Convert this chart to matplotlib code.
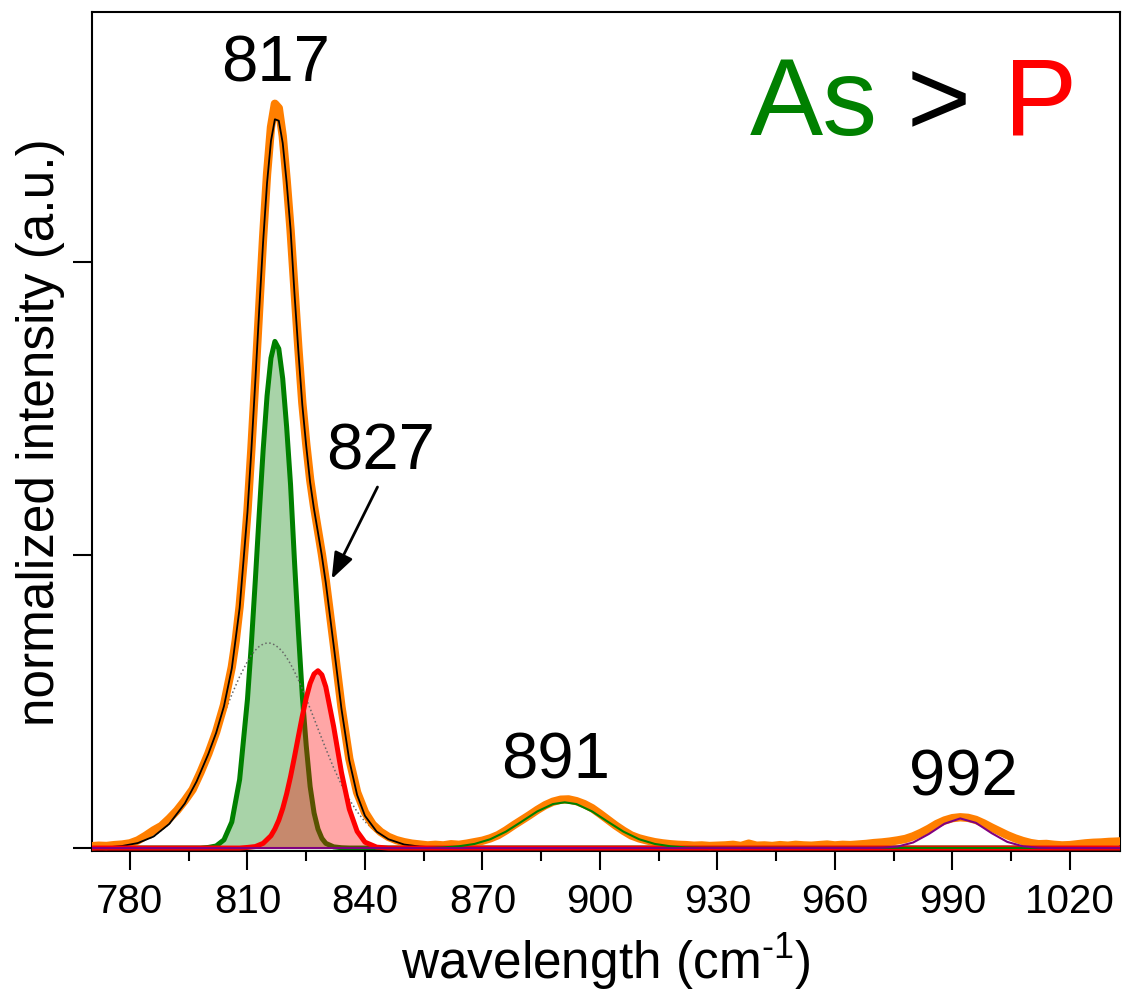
import matplotlib
matplotlib.use("Agg")
import matplotlib.pyplot as plt
from matplotlib.ticker import MultipleLocator

plt.rcParams['font.family'] = ['Liberation Sans', 'DejaVu Sans']
plt.rcParams['mathtext.fontset'] = 'custom'
plt.rcParams['mathtext.rm'] = 'Liberation Sans'
plt.rcParams['mathtext.it'] = 'Liberation Sans:italic'

# measured spectrum (orange)
wn = [770, 772, 774, 776, 778, 780, 782, 784, 786, 788, 790, 792, 794, 796, 798,
      800, 802, 804, 806, 807, 808, 809, 810, 811, 812, 813, 814, 815, 816, 817,
      818, 819, 820, 821, 822, 823, 824, 825, 826, 827, 828, 829, 830, 832, 834,
      836, 838, 840, 842, 844, 846, 848, 850, 852, 854, 856, 858, 860, 862, 864,
      866, 868, 870, 872, 874, 876, 878, 880, 882, 884, 886, 888, 890, 892, 894,
      896, 898, 900, 902, 904, 906, 908, 910, 912, 914, 916, 918, 920, 922, 924,
      926, 928, 930, 932, 934, 936, 938, 940, 942, 944, 946, 948, 950, 952, 954,
      956, 958, 960, 962, 964, 966, 968, 970, 972, 974, 976, 978, 980, 982, 984,
      986, 988, 990, 992, 994, 996, 998, 1000, 1002, 1004, 1006, 1008, 1010, 1012,
      1014, 1016, 1018, 1020, 1022, 1024, 1026, 1028, 1030, 1032, 1034]
intensity = [0.006, 0.008, 0.007, 0.010, 0.012, 0.016, 0.026, 0.042, 0.060, 0.075,
             0.100, 0.128, 0.162, 0.200, 0.258, 0.322, 0.396, 0.488, 0.618, 0.708,
             0.825, 0.978, 1.150, 1.362, 1.600, 1.845, 2.085, 2.300, 2.460, 2.540,
             2.525, 2.430, 2.280, 2.110, 1.905, 1.705, 1.520, 1.380, 1.258, 1.165,
             1.085, 1.003, 0.912, 0.700, 0.482, 0.305, 0.190, 0.122, 0.080, 0.055,
             0.038, 0.027, 0.020, 0.015, 0.012, 0.009, 0.011, 0.009, 0.013, 0.011,
             0.015, 0.020, 0.025, 0.033, 0.044, 0.060, 0.078, 0.095, 0.112, 0.130,
             0.146, 0.158, 0.165, 0.166, 0.160, 0.150, 0.136, 0.117, 0.097, 0.077,
             0.059, 0.043, 0.033, 0.026, 0.020, 0.016, 0.013, 0.011, 0.010, 0.008,
             0.009, 0.007, 0.008, 0.009, 0.011, 0.007, 0.015, 0.008, 0.009, 0.007,
             0.010, 0.008, 0.011, 0.009, 0.008, 0.010, 0.012, 0.009, 0.011, 0.010,
             0.012, 0.014, 0.017, 0.019, 0.022, 0.026, 0.031, 0.040, 0.052, 0.066,
             0.082, 0.094, 0.102, 0.105, 0.103, 0.096, 0.084, 0.070, 0.057, 0.044,
             0.033, 0.024, 0.017, 0.013, 0.014, 0.011, 0.009, 0.010, 0.013, 0.016,
             0.018, 0.019, 0.021, 0.022, 0.024]

# fit of the 770-858 region
x_fit = [770, 774, 778, 782, 786, 790, 794, 797, 800, 802, 804, 806, 808, 810, 811,
         812, 813, 814, 815, 816, 817, 818, 819, 820, 821, 822, 823, 824, 825, 826,
         827, 828, 829, 830, 832, 834, 836, 838, 840, 843, 846, 850, 854, 858]
fit_sum = [0.001, 0.002, 0.007, 0.017, 0.039, 0.082, 0.152, 0.227, 0.321, 0.393,
           0.484, 0.613, 0.819, 1.147, 1.359, 1.593, 1.837, 2.070, 2.270, 2.413,
           2.487, 2.482, 2.406, 2.272, 2.112, 1.893, 1.695, 1.513, 1.372, 1.248,
           1.156, 1.077, 0.997, 0.905, 0.693, 0.475, 0.299, 0.181, 0.110, 0.056,
           0.030, 0.012, 0.005, 0.002]
broad = [0.001, 0.002, 0.007, 0.017, 0.039, 0.082, 0.152, 0.227, 0.319, 0.386,
         0.456, 0.524, 0.585, 0.637, 0.658, 0.675, 0.688, 0.696, 0.700, 0.699,
         0.693, 0.683, 0.669, 0.650, 0.628, 0.602, 0.574, 0.543, 0.510, 0.476,
         0.442, 0.407, 0.373, 0.339, 0.274, 0.216, 0.166, 0.124, 0.090, 0.053,
         0.030, 0.012, 0.005, 0.002]

# As band (817)
x_as = [770, 798, 800, 802, 804, 806, 808, 810, 811, 812, 813, 814, 815, 816, 817,
        818, 819, 820, 821, 822, 823, 824, 825, 826, 827, 828, 829, 830, 832, 834,
        836, 1034]
as_band = [0, 0, 0.002, 0.007, 0.028, 0.089, 0.234, 0.508, 0.698, 0.913, 1.140,
           1.358, 1.543, 1.672, 1.729, 1.704, 1.602, 1.437, 1.240, 0.980, 0.740,
           0.520, 0.350, 0.210, 0.120, 0.065, 0.033, 0.016, 0.004, 0.001, 0, 0]

# P band (827)
x_p = [770, 808, 810, 812, 814, 816, 817, 818, 819, 820, 821, 822, 823, 824, 825,
       826, 827, 828, 829, 830, 832, 834, 836, 838, 840, 843, 846, 1034]
p_band = [0, 0, 0.002, 0.005, 0.016, 0.042, 0.065, 0.095, 0.135, 0.185, 0.244,
          0.311, 0.381, 0.450, 0.512, 0.562, 0.594, 0.605, 0.591, 0.550, 0.415,
          0.258, 0.133, 0.057, 0.020, 0.003, 0, 0]

# 891 band
x_891 = [770, 856, 860, 864, 868, 872, 876, 880, 884, 888, 891, 894, 898, 902, 906,
         910, 914, 918, 922, 926, 1034]
band_891 = [0, 0, 0.002, 0.006, 0.014, 0.030, 0.056, 0.090, 0.125, 0.150, 0.156,
            0.150, 0.125, 0.090, 0.056, 0.030, 0.014, 0.006, 0.002, 0.001, 0]

# 992 band
x_992 = [770, 968, 972, 976, 980, 984, 988, 992, 996, 1000, 1004, 1008, 1012, 1016, 1034]
band_992 = [0, 0, 0.001, 0.005, 0.019, 0.048, 0.083, 0.101, 0.086, 0.051, 0.021,
            0.006, 0.001, 0, 0]

xticks = [780, 810, 840, 870, 900, 930, 960, 990, 1020]

fig = plt.figure(figsize=(11.22, 9.95), dpi=100)
ax = fig.add_axes([0.082, 0.1437, 0.9162, 0.8432])

ax.fill_between(x_as, as_band, 0, color='green', alpha=0.34, lw=0, zorder=2)
ax.plot(x_as, as_band, color='#008000', lw=3.6, zorder=2.1)
ax.fill_between(x_p, p_band, 0, color='red', alpha=0.35, lw=0, zorder=2.2)
ax.plot(x_fit, broad, color='#666666', lw=1.1, ls=':', zorder=2.5)
ax.plot(wn, intensity, color='#ff7f00', lw=6, zorder=3, solid_capstyle='round')
ax.plot(x_fit, fit_sum, color='black', lw=1.3, zorder=4)
ax.plot(x_p, p_band, color='red', lw=3.6, zorder=5)
ax.plot(x_891, band_891, color='#008000', lw=1.5, zorder=5)
ax.plot(x_992, band_992, color='purple', lw=1.5, zorder=6)

ax.set_xlim(770.3, 1032.8)
ax.set_ylim(-0.0102, 2.853)
ax.set_xticks(xticks)
ax.xaxis.set_minor_locator(MultipleLocator(15))
ax.set_yticks([0, 1, 2])
ax.tick_params(axis='both', which='major', direction='out', length=14, width=1.5,
               labelsize=29, pad=8)
ax.tick_params(axis='x', which='minor', direction='out', length=7, width=1.5)
ax.tick_params(axis='y', labelleft=False)
for s in ax.spines.values():
    s.set_linewidth(1.5)

ax.set_xlabel(r'wavelength (cm$^{\text{-}1}$)', fontsize=37)
ax.set_ylabel('normalized intensity (a.u.)', fontsize=37)
ax.xaxis.set_label_coords(0.5, -0.095)
ax.yaxis.set_label_coords(-0.026, 0.5)

# peak labels
ax.text(817.3, 2.618, '817', fontsize=47, ha='center', va='baseline')
ax.text(843.9, 1.294, '827', fontsize=47, ha='center', va='baseline')
ax.text(888.8, 0.242, '891', fontsize=47, ha='center', va='baseline')
ax.text(992.8, 0.184, '992', fontsize=47, ha='center', va='baseline')
ax.annotate('', xy=(831.5, 0.918), xytext=(843.2, 1.232),
            arrowprops=dict(arrowstyle='-|>,head_length=0.4,head_width=0.15',
                            color='black', lw=2, mutation_scale=40,
                            shrinkA=0, shrinkB=0))

# As > P
ax.text(938.2, 2.437, 'As', fontsize=79, color='#008000', ha='left', va='baseline')
ax.text(986.4, 2.437, '>', fontsize=79, color='black', ha='center', va='baseline')
ax.text(1003.2, 2.437, 'P', fontsize=79, color='red', ha='left', va='baseline')

plt.savefig('out.png', dpi=100)
